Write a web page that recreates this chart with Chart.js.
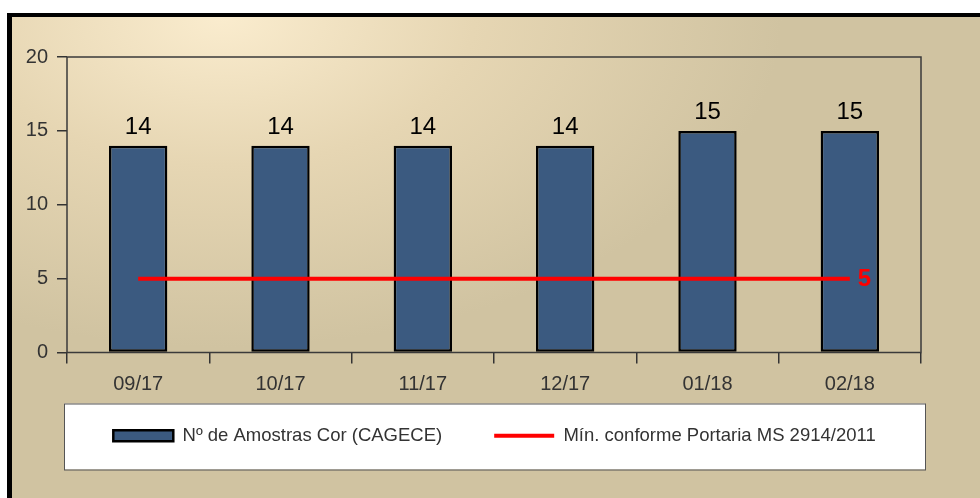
<!DOCTYPE html>
<html>
<head>
<meta charset="utf-8">
<script src="https://cdn.jsdelivr.net/npm/chart.js@4.4.1/dist/chart.umd.min.js"></script>
<style>
    body { margin: 0; background: #fff; }
    #quadro { position: relative; width: 980px; height: 498px; overflow: hidden; }
    #fundo {
        position: absolute; left: 7px; top: 13px; right: 0; bottom: 0;
        border-left: 5px solid #000; border-top: 4px solid #000;
        background: radial-gradient(ellipse 560px 330px at 210px 0px, #faecce 0%, #e6d6b3 45%, #d0c3a1 100%);
    }
    #grafico { position: absolute; left: 0; top: 0; }
</style>
</head>
<body>
<div id="quadro">
    <div id="fundo"></div>
    <canvas id="grafico" width="980" height="498"></canvas>
</div>
<script>
// dados
const meses      = ["09/17", "10/17", "11/17", "12/17", "01/18", "02/18"];
const amostras   = [14, 14, 14, 14, 15, 15];
const minimo     = [5, 5, 5, 5, 5, 5];
const ticksY     = [0, 5, 10, 15, 20];

const fonte = "'Liberation Sans', Arial, sans-serif";

// moldura da área de plotagem + caixa branca da legenda
const molduras = {
    id: 'molduras',
    afterLayout(chart) {
        // centraliza a legenda sob a caixa branca
        const lg = chart.legend;
        if (!lg) return;
        lg.left += 34; lg.right += 34;
        lg.top -= 23; lg.bottom -= 23;
    },
    beforeDatasetsDraw(chart) {
        const { ctx, chartArea: a } = chart;
        ctx.save();
        ctx.strokeStyle = '#3a3a3a';
        ctx.lineWidth = 1.5;
        ctx.strokeRect(a.left, a.top, a.right - a.left, a.bottom - a.top);
        ctx.restore();
    },
    beforeDraw(chart) {
        const { ctx, chartArea: a } = chart;
        const cy = a.bottom + 84;
        ctx.save();
        ctx.fillStyle = '#fff';
        ctx.strokeStyle = '#555';
        ctx.lineWidth = 1;
        ctx.fillRect(a.left - 3, cy - 33, a.right - a.left + 7, 66);
        ctx.strokeRect(a.left - 3 + 0.5, cy - 33 + 0.5, a.right - a.left + 7, 66);
        ctx.restore();
    }
};

// rótulos dos valores
const rotulos = {
    id: 'rotulos',
    afterDatasetsDraw(chart) {
        const { ctx } = chart;
        ctx.save();
        const barras = chart.getDatasetMeta(0);
        ctx.fillStyle = '#000';
        ctx.font = `24px ${fonte}`;
        ctx.textAlign = 'center';
        ctx.textBaseline = 'alphabetic';
        barras.data.forEach((el, i) => {
            ctx.fillText(amostras[i], el.x, el.y - 12);
        });
        const linha = chart.getDatasetMeta(1);
        const ult = linha.data[linha.data.length - 1];
        ctx.fillStyle = '#ff0000';
        ctx.font = `bold 24px ${fonte}`;
        ctx.textAlign = 'left';
        ctx.textBaseline = 'middle';
        ctx.fillText(minimo[minimo.length - 1], ult.x + 8, ult.y + 1);
        ctx.restore();
    }
};

new Chart(document.getElementById("grafico"), {
    type: 'bar',
    data: {
        labels: meses,
        datasets: [
            {
                label: 'Nº de Amostras Cor (CAGECE)',
                data: amostras,
                backgroundColor: '#3b5a80',
                borderColor: '#000',
                borderWidth: 2.5,
                borderSkipped: false,
                barPercentage: 0.41,
                categoryPercentage: 1,
                pointStyle: 'rect',
                order: 1
            },
            {
                type: 'line',
                label: 'Mín. conforme Portaria MS 2914/2011',
                data: minimo,
                borderColor: '#ff0000',
                backgroundColor: '#ff0000',
                borderWidth: 4,
                pointRadius: 0,
                pointStyle: 'line',
                fill: false,
                order: 0
            }
        ]
    },
    options: {
        responsive: false,
        animation: false,
        layout: { padding: { left: 0, right: 59, top: 57, bottom: 20 } },
        plugins: {
            tooltip: { enabled: false },
            legend: {
                position: 'bottom',
                labels: {
                    usePointStyle: true,
                    pointStyleWidth: 60,
                    boxHeight: 11,
                    padding: 52,
                    color: '#333',
                    font: { size: 18.5, family: fonte },
                    sort: (a, b) => a.datasetIndex - b.datasetIndex
                }
            }
        },
        scales: {
            x: {
                grid: { display: true, drawOnChartArea: false, offset: true, tickLength: 11, color: '#333', lineWidth: 1.5 },
                border: { display: false },
                ticks: { color: '#333', font: { size: 20, family: fonte }, padding: 9 },
                afterFit: (s) => { s.height = 45; }
            },
            y: {
                min: 0,
                max: 20,
                afterBuildTicks: (s) => { s.ticks = ticksY.map(v => ({ value: v })); },
                grid: { display: true, drawOnChartArea: false, tickLength: 10, color: '#333', lineWidth: 1.5 },
                border: { display: false },
                ticks: { color: '#333', font: { size: 20, family: fonte }, padding: 9 },
                afterFit: (s) => { s.width = 67; }
            }
        }
    },
    plugins: [molduras, rotulos]
});
</script>
</body>
</html>
